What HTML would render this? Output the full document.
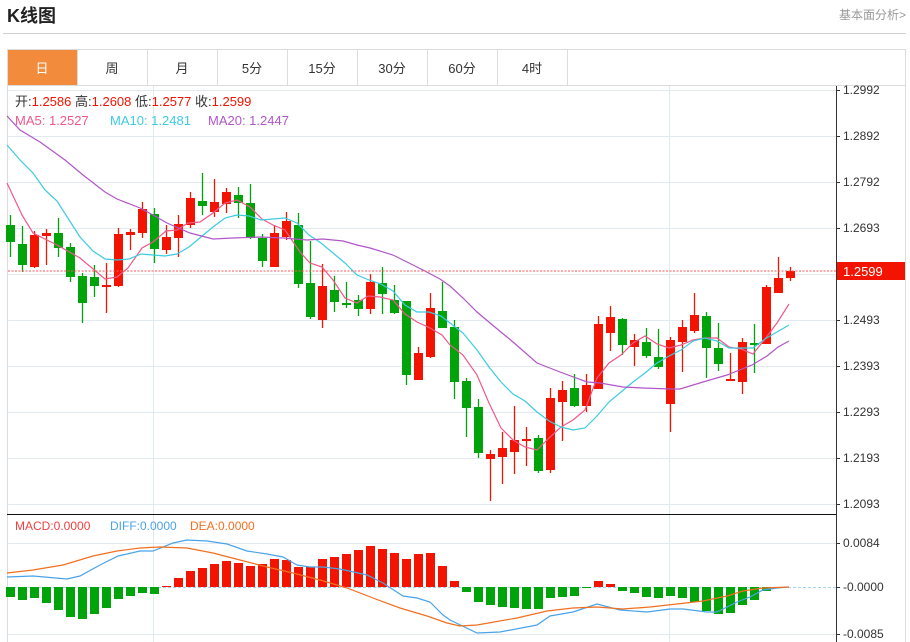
<!DOCTYPE html>
<html><head><meta charset="utf-8">
<style>
html,body{margin:0;padding:0;background:#fff;width:910px;height:642px;overflow:hidden;font-family:"Liberation Sans","Noto Sans CJK SC",sans-serif;}
.t{position:absolute;white-space:nowrap}
</style></head><body>
<div class="t" style="left:7px;top:2px;font-size:18px;font-weight:bold;color:#222;">K线图</div>
<div class="t" style="right:4px;top:6px;font-size:12px;color:#999;">基本面分析&gt;</div>
<div style="position:absolute;left:3px;top:33px;width:903px;height:1px;background:#d0d0d0"></div>
<svg id="s" width="910" height="642" style="position:absolute;left:0;top:0" xmlns="http://www.w3.org/2000/svg"></svg>
<script>
var NS="http://www.w3.org/2000/svg",s=document.getElementById('s'),h='';
// frame & tabs
h+='<rect x="7.5" y="49.5" width="898" height="600" fill="none" stroke="#dcdcdc"/>';
h+='<line x1="7" y1="85.5" x2="906" y2="85.5" stroke="#dcdcdc"/>';
h+='<rect x="8" y="50" width="69" height="35" fill="#f28c3c"/>';
var tabs=['日','周','月','5分','15分','30分','60分','4时'];
for(var i=0;i<8;i++){var x=7+70*i;if(i>0)h+='<line x1="'+(x+0.5)+'" y1="50" x2="'+(x+0.5)+'" y2="85" stroke="#dcdcdc"/>';
h+='<text x="'+(x+35)+'" y="73" font-size="13" text-anchor="middle" fill="'+(i==0?'#fff':'#333')+'">'+tabs[i]+'</text>';}
h+='<line x1="567.5" y1="50" x2="567.5" y2="85" stroke="#dcdcdc"/>';
// grid
var gy=[90,136,182,228,274,320,366,412,458,504],gl=['1.2992','1.2892','1.2792','1.2693','','1.2493','1.2393','1.2293','1.2193','1.2093'];
for(i=0;i<gy.length;i++){h+='<line x1="8" y1="'+(gy[i]+.5)+'" x2="836" y2="'+(gy[i]+.5)+'" stroke="#e2eaf1"/>';
h+='<line x1="836" y1="'+(gy[i]+.5)+'" x2="840" y2="'+(gy[i]+.5)+'" stroke="#333"/>';
if(gl[i])h+='<text x="843" y="'+(gy[i]+4)+'" font-size="12" fill="#333">'+gl[i]+'</text>';}
[543,587,634].forEach(function(y,k){h+='<line x1="8" y1="'+(y+.5)+'" x2="836" y2="'+(y+.5)+'" stroke="'+(k==1?'#a9d4ee':'#e2eaf1')+'"'+(k==1?' stroke-dasharray="3,2"':'')+'/>';
h+='<line x1="836" y1="'+(y+.5)+'" x2="840" y2="'+(y+.5)+'" stroke="#333"/>';
h+='<text x="843" y="'+(y+4)+'" font-size="12" fill="#333">'+['0.0084','-0.0000','-0.0085'][k]+'</text>';});
h+='<line x1="153.5" y1="86" x2="153.5" y2="642" stroke="#e2eaf1"/><line x1="669.5" y1="86" x2="669.5" y2="642" stroke="#e2eaf1"/>';
h+='<line x1="836.5" y1="86" x2="836.5" y2="642" stroke="#333"/>';
h+='<line x1="7" y1="514.5" x2="836" y2="514.5" stroke="#111"/>';
// candles [c,bt,bb,wt,wb]
var C=[['g',225,242,215,257],['g',244,265,226,272],['r',235,267,231,268],['r',233,236,229,265],['g',233,248,218,257],['g',247,277,243,282],['g',276,303,273,323],['g',277,286,265,297],['r',285,287,263,313],['r',234,286,228,287],['r',232,235,229,250],['r',209,233,202,238],['g',214,249,208,263],['r',237,250,225,254],['r',224,238,215,257],['r',198,225,192,228],['g',201,206,173,215],['r',202,212,179,217],['r',192,204,188,213],['g',195,203,187,218],['g',203,238,184,239],['g',238,261,234,267],['r',233,267,225,267],['r',221,237,212,240],['g',225,284,213,288],['g',283,317,241,319],['r',286,320,264,328],['g',290,302,276,312],['g',303,304,282,308],['g',300,309,295,316],['r',282,309,274,314],['g',283,294,267,314],['g',300,313,285,314],['g',301,375,301,385],['r',353,380,347,380],['r',308,357,293,358],['g',311,328,282,328],['g',327,382,320,399],['g',381,408,378,437],['g',407,453,399,458],['r',454,459,450,501],['r',448,457,432,484],['r',440,452,406,474],['r',439,441,427,466],['g',438,471,435,473],['r',398,470,388,473],['r',390,402,381,441],['g',388,406,374,407],['r',385,406,374,412],['r',324,389,316,389],['r',317,333,306,351],['g',319,345,318,355],['r',340,347,334,366],['g',342,356,328,358],['g',357,367,329,369],['r',340,404,337,432],['r',327,342,320,372],['r',315,331,293,333],['g',316,348,312,378],['g',348,364,323,371],['r',379,380,353,379],['r',342,382,338,394],['g',343,344,324,373],['r',287,344,285,344],['r',278,293,257,293],['r',271,278,267,281]];
var RED='#f21400',GRN='#00a30a';
C.forEach(function(c,i){var x=10+12*i,col=c[0]=='r'?RED:GRN;
h+='<line x1="'+(x+.5)+'" y1="'+c[3]+'" x2="'+(x+.5)+'" y2="'+c[4]+'" stroke="'+col+'" stroke-width="1.3"/>';
h+='<rect x="'+(x-4)+'" y="'+c[1]+'" width="9" height="'+Math.max(2,c[2]-c[1])+'" fill="'+col+'"/>';});
function pl(p,col){h+='<polyline fill="none" stroke="'+col+'" stroke-width="1.2" points="'+p+'"/>';}
pl('7,183 22,215 33,233 57,245 80,258 105,279 117,277 128,268 142,248 153,242 166,231 177,230 188,223 200,222 213,213 225,203 237,200 250,207 262,219 273,225 285,230 300,252 310,263 322,267 333,280 345,298 357,303 368,296 380,297 393,300 405,314 417,322 430,328 442,335 450,345 463,355 477,375 489,403 501,428 513,440 525,447 537,450 549,438 561,427 573,420 585,410 597,378 609,363 621,355 633,343 645,336 657,344 669,348 681,345 693,340 705,338 717,338 729,347 741,349 753,354 765,339 777,323 789,304','#f0588a');
pl('7,145 20,160 33,173 45,190 57,201 80,237 93,251 105,259 117,260 129,259 141,254 153,255 165,256 177,254 189,247 201,237 213,227 225,218 237,215 249,216 261,220 273,219 285,218 297,223 309,235 321,243 333,253 345,263 357,275 369,280 381,284 393,291 405,305 417,312 429,312 441,316 450,323 463,333 477,350 489,367 501,382 513,394 525,401 537,412 549,421 561,427 573,430 585,428 597,416 609,402 621,392 633,382 645,373 657,363 669,356 681,350 693,341 705,338 717,341 729,348 741,348 753,348 765,339 777,332 789,325','#3ccbe0');
pl('7,116 20,130 40,142 65,160 83,175 105,192 117,199 140,208 153,215 167,223 190,233 213,239 233,238 260,237 283,238 307,240 323,239 343,241 357,245 370,248 393,255 407,262 423,270 440,279 450,286 463,298 477,312 490,323 513,342 537,363 560,372 587,382 600,383 623,387 643,388 670,389 680,389 703,382 727,375 752,365 767,356 778,347 789,341','#b255c8');
// last price
h+='<line x1="8" y1="271" x2="836" y2="271" stroke="#f55" stroke-dasharray="2,1.5"/>';
h+='<rect x="837" y="262" width="68" height="18" fill="#f21400"/><text x="843" y="276" font-size="13" fill="#fff">1.2599</text>';
// info
h+='<text x="15" y="106" font-size="13" fill="#333">开:<tspan fill="#f21400">1.2586</tspan>  高:<tspan fill="#f21400">1.2608</tspan>  低:<tspan fill="#f21400">1.2577</tspan>  收:<tspan fill="#f21400">1.2599</tspan></text>';
h+='<text x="15" y="125" font-size="13"><tspan fill="#f0588a">MA5: 1.2527</tspan><tspan x="110" fill="#3ccbe0">MA10: 1.2481</tspan><tspan x="208" fill="#b255c8">MA20: 1.2447</tspan></text>';
h+='<text x="15" y="530" font-size="12"><tspan fill="#f04040">MACD:0.0000</tspan><tspan x="110" fill="#4aa3e8">DIFF:0.0000</tspan><tspan x="190" fill="#f07020">DEA:0.0000</tspan></text>';
// macd bars
var M=[597,600,598,603,610,617,619,614,608,599,596,593,594,586,578,571,568,564,561,563,566,564,559,560,567,567,559,557,554,550,546,549,553,559,554,553,566,581,592,602,605,607,608,609,609,598,597,596,588,581,584,591,593,597,598,596,598,602,611,614,613,605,600,591,588,587];
M.forEach(function(y,i){var x=10+12*i;if(Math.abs(y-587)<1)return;var col=y<587?RED:GRN;var t=Math.min(y,587),b=Math.max(y,587);
h+='<rect x="'+(x-4)+'" y="'+t+'" width="9" height="'+(b-t)+'" fill="'+col+'"/>';});
pl('7,577 33,576 67,579 80,576 100,565 118,556 140,551 153,551 173,543 187,540 207,541 227,544 247,551 267,554 283,557 297,565 310,567 323,567 340,569 367,575 383,583 403,596 417,598 430,602 443,615 450,620 477,633 500,632 537,625 550,616 573,612 597,604 620,610 647,612 670,609 683,609 707,612 717,612 737,602 750,597 763,590 777,588 789,587','#4aa3e8');
pl('7,573 33,570 63,565 93,556 117,551 140,548 160,547 187,548 213,553 240,560 267,567 293,573 320,580 347,588 373,598 400,608 427,616 447,623 460,626 477,625 517,618 547,611 573,608 597,607 623,609 650,607 677,604 703,601 727,596 743,591 763,588 789,587','#f07020');
s.innerHTML=h;
</script>
</body></html>
